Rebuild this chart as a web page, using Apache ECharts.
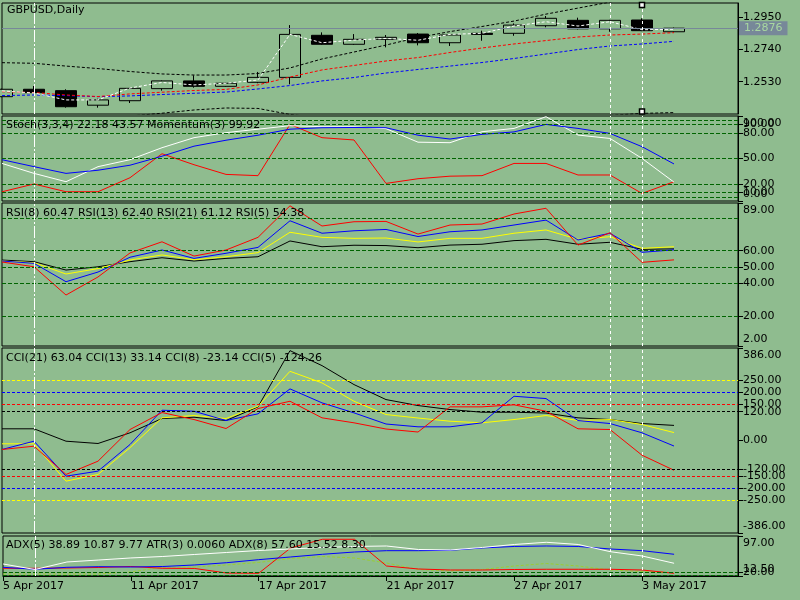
<!DOCTYPE html>
<html>
<head>
<meta charset="utf-8">
<script src="https://cdn.jsdelivr.net/npm/echarts@6/dist/echarts.min.js"></script>
<style>
html,body{margin:0;padding:0;background:#8fbc8f;}
#chart{width:800px;height:600px;}
</style>
</head>
<body>
<div id="chart"></div>
<script>
var FONT = 'DejaVu Sans';
var BG = '#8fbc8f';
var LEVEL = '#006400';

var dates = ['5 Apr 2017','6 Apr 2017','7 Apr 2017','10 Apr 2017','11 Apr 2017','12 Apr 2017',
  '13 Apr 2017','14 Apr 2017','17 Apr 2017','18 Apr 2017','19 Apr 2017','20 Apr 2017',
  '21 Apr 2017','24 Apr 2017','25 Apr 2017','26 Apr 2017','27 Apr 2017','28 Apr 2017',
  '1 May 2017','2 May 2017','3 May 2017','4 May 2017','5 May 2017','8 May 2017'];

// open, close, low, high
var ohlc = [
  [1.2433,1.2481,1.2430,1.2485],[1.2481,1.2459,1.2455,1.2502],[1.2472,1.2368,1.2362,1.2481],
  [1.2378,1.2412,1.2362,1.2420],[1.2407,1.2487,1.2392,1.2490],[1.2485,1.2535,1.2472,1.2538],
  [1.2535,1.2500,1.2491,1.2571],[1.2500,1.2520,1.2497,1.2523],[1.2526,1.2558,1.2520,1.2593],
  [1.2558,1.2836,1.2513,1.2896],[1.2830,1.2772,1.2768,1.2849],[1.2772,1.2804,1.2768,1.2838],
  [1.2804,1.2817,1.2752,1.2832],[1.2838,1.2782,1.2765,1.2845],[1.2782,1.2832,1.2761,1.2835],
  [1.2843,1.2836,1.2795,1.2860],[1.2843,1.2896,1.2827,1.2907],[1.2892,1.2940,1.2882,1.2955],
  [1.2927,1.2872,1.2868,1.2944],[1.2872,1.2927,1.2853,1.2930],[1.2929,1.2860,1.2857,1.2940],
  [1.2853,1.2876,1.2850,1.2880]
];
var maFast = [1.2470,1.2457,1.2412,1.2412,1.2489,1.2525,1.2509,1.2520,1.2541,1.2836,1.2782,
  1.2799,1.2810,1.2798,1.2836,1.2843,1.2890,1.2918,1.2890,1.2918,1.2866,1.2869];
var maRed = [1.2465,1.2460,1.2444,1.2434,1.2451,1.2462,1.2473,1.2480,1.2509,1.2560,1.2606,
  1.2635,1.2664,1.2686,1.2719,1.2748,1.2774,1.2796,1.2819,1.2832,1.2838,1.2847];
var maBlue = [1.2440,1.2444,1.2440,1.2433,1.2438,1.2447,1.2455,1.2463,1.2483,1.2505,1.2535,
  1.2557,1.2586,1.2609,1.2631,1.2654,1.2680,1.2709,1.2738,1.2761,1.2774,1.2791];
var bandUp = [1.2653,1.2649,1.2631,1.2615,1.2596,1.2580,1.2573,1.2573,1.2583,1.2619,1.2677,
  1.2722,1.2767,1.2816,1.2854,1.2887,1.2922,1.2967,1.3006,1.3045,1.3075,1.3100];
var bandLow = [1.2276,1.2273,1.2283,1.2295,1.2308,1.2326,1.2347,1.2360,1.2357,1.2318,1.2295,
  1.2276,1.2263,1.2257,1.2257,1.2263,1.2270,1.2283,1.2295,1.2312,1.2325,1.2330];
var lastPrice = 1.2876;
var priceTicks = [1.2530, 1.2740, 1.2950];

var stochMain = [48.6,40.4,32.5,36.2,42.1,52.7,64.5,71.5,77.4,84.5,86.2,86.5,86.2,77.4,72.9,
  78.4,81.3,90.1,85.4,79.5,63.9,43.6];
var stochSignal = [44.2,32.5,22.7,40.4,48.6,62.7,74.5,80.4,84.5,88.6,87.4,87.4,85.1,69.2,68.6,
  81.5,85.4,99.2,77.6,73.6,50.1,22.2];
var momentum = [10.9,20.0,10.9,10.9,27.4,55.6,42.7,31.3,29.8,90.1,74.5,71.8,20.7,26.2,29.2,
  29.8,44.2,44.2,30.6,30.6,8.9,22.7];
var stochLevels = [95, 90, 80, 50, 20, 10, 5];
var stochTicks = [100, 95, 90, 80, 50, 20, 10, 5, 0];

var rsi5 = [53.1,50.2,33.0,44.0,58.6,65.4,56.7,60.4,68.1,87.3,75.0,77.6,77.8,70.1,75.6,76.2,
  82.3,85.8,63.4,70.9,52.9,54.4];
var rsi8 = [53.7,52.3,41.1,47.0,56.0,60.4,55.3,58.4,62.0,78.2,70.6,72.1,72.9,68.6,71.5,72.6,
  75.6,78.6,66.5,70.6,59.0,60.5];
var rsi13 = [53.7,52.7,45.8,49.1,54.3,57.4,54.5,56.3,58.8,71.2,68.1,67.5,67.7,65.3,67.5,67.5,
  70.6,72.6,66.9,68.5,61.4,62.4];
var rsi21 = [54.3,53.3,48.2,50.2,53.3,55.7,53.7,55.3,56.3,65.9,62.4,63.3,63.1,61.8,63.4,63.9,
  66.1,66.9,63.9,65.1,60.8,61.1];
var rsiLevels = [80, 60, 50, 40, 20];
var rsiTicks = [89, 80, 60, 50, 40, 20, 2];

var cci21 = [48.8,48.8,-2.9,-12.5,32.1,91.7,97.1,83.3,140.4,375.0,312.5,233.3,170.8,145.8,
  129.2,117.9,117.9,114.6,94.6,87.5,70.8,63.0];
var cci13 = [-13.8,-13.8,-169.6,-141.7,-30.0,94.6,104.2,91.7,142.9,288.8,240.4,163.8,108.3,
  93.8,80.4,73.8,87.5,104.2,83.3,87.5,66.7,33.1];
var cci8 = [-37.5,-2.9,-148.8,-127.9,-16.7,126.3,122.1,83.3,111.3,215.4,157.1,115.4,68.8,57.1,
  57.1,73.8,184.6,175.0,83.3,70.8,32.1,-23.1];
var cci5 = [-37.5,-23.8,-141.7,-86.3,45.8,116.7,87.5,50.0,133.3,163.8,94.6,73.8,47.9,35.4,
  140.4,140.4,148.8,122.1,48.8,45.8,-61.3,-124.3];
var cciLevels = [[120,'#000000'],[150,'#ff0000'],[200,'#0000ff'],[250,'#ffff00']];
var cciTicks = [386, 250, 200, 150, 120, 0, -120, -150, -200, -250, -386];

var adxWhite = [37.9,26.2,42.1,46.3,50.6,53.7,58.0,62.2,66.4,69.6,72.8,74.9,75.9,68.5,67.5,
  72.8,79.1,83.7,79.1,63.9,54.8,39.4];
var adxBlue = [30.9,26.7,30.9,32.2,31.5,32.6,35.8,40.6,47.0,52.7,58.4,63.2,66.0,66.0,66.8,
  71.7,74.9,75.9,74.9,69.6,66.0,58.4];
var adxRed = [28.8,28.8,29.4,30.5,32.6,28.8,28.4,18.8,18.2,71.7,90.1,90.1,33.6,27.3,25.2,
  25.2,26.2,26.7,26.7,26.7,25.2,18.2];
var atrLine = [16.7,16.7,16.7,16.7,21.0,31.5,31.5,35.8,41.1,49.6,53.7,50.6,40.0,26.2,23.1,
  26.2,33.6,38.9,33.6,25.2,22.0,19.5];
var adxLevels = [20, 15];
var adxTicks = [97, 20, 15, 12.5];

var titles = [
  ['GBPUSD,Daily', 7, 5],
  ['Stoch(3,3,4) 22.18 43.57 Momentum(3) 99.92', 6, 120],
  ['RSI(8) 60.47 RSI(13) 62.40 RSI(21) 61.12 RSI(5) 54.38', 6, 208],
  ['CCI(21) 63.04 CCI(13) 33.14 CCI(8) -23.14 CCI(5) -124.26', 6, 353],
  ['ADX(5) 38.89 10.87 9.77 ATR(3) 0.0060 ADX(8) 57.60 15.52 8.30', 6, 540]
];

var panels = [
  {top: 3, height: 111, min: 1.2321, max: 1.3039, ticks: priceTicks, digits: 4},
  {top: 116, height: 85, min: 0, max: 100, ticks: stochTicks, digits: 2},
  {top: 203, height: 143, min: 2, max: 89, ticks: rsiTicks, digits: 2},
  {top: 348, height: 185, min: -386, max: 386, ticks: cciTicks, digits: 2},
  {top: 536, height: 40, min: 12.5, max: 97, ticks: adxTicks, digits: 2}
];

function vLines() {
  return [
    {xAxis: dates[1], lineStyle: {color: '#ffffff', type: [12, 2, 2, 2], width: 1}},
    {xAxis: dates[19], lineStyle: {color: '#ffffff', type: [3, 3], width: 1}},
    {xAxis: dates[20], lineStyle: {color: '#ffffff', type: [3, 3], width: 1}}
  ];
}
function hLevels(vals, color) {
  return vals.map(function (v) {
    return {yAxis: v, lineStyle: {color: color, type: [4, 2], width: 1}};
  });
}
function mark(data) {
  return {silent: true, symbol: ['none', 'none'], precision: 6, label: {show: false},
    animation: false, data: data};
}
function line(grid, data, color, dashed, extra) {
  var s = {
    type: 'line', xAxisIndex: grid, yAxisIndex: grid, data: data, symbol: 'none',
    lineStyle: {color: color, width: 1, type: dashed ? [3, 2] : 'solid'}, z: 3
  };
  if (extra) s.markLine = extra;
  return s;
}

var grids = [], xAxes = [], yAxes = [];
panels.forEach(function (p, i) {
  grids.push({left: 2, width: 736, top: p.top, height: p.height, show: true,
    borderColor: '#000', borderWidth: 1, backgroundColor: 'transparent'});
  var last = i === panels.length - 1;
  xAxes.push({
    type: 'category', gridIndex: i, data: dates, boundaryGap: false,
    axisLine: {show: last, lineStyle: {color: '#000'}},
    axisTick: {show: last, interval: 3, length: 5, lineStyle: {color: '#000'}},
    axisLabel: {show: last, interval: 3, align: 'left', margin: 5, color: '#000',
      fontSize: 11, fontFamily: FONT},
    splitLine: {show: false}
  });
  var edge = i > 0;
  yAxes.push({
    type: 'value', gridIndex: i, position: 'right', min: p.min, max: p.max,
    splitLine: {show: false},
    axisLine: {show: true, lineStyle: {color: '#000'}},
    axisTick: {show: true, customValues: p.ticks, length: 5, lineStyle: {color: '#000'}},
    axisLabel: {
      customValues: p.ticks, margin: 5, color: '#000', fontSize: 11, fontFamily: FONT,
      showMinLabel: true, showMaxLabel: true, hideOverlap: false,
      formatter: function (v) {
        var s = v.toFixed(p.digits);
        if (edge && v === p.max) return '{t|' + s + '}';
        if (edge && v === p.min) return '{b|' + s + '}';
        return s;
      },
      rich: {
        t: {padding: [14, 0, 0, 0], color: '#000', fontSize: 11, fontFamily: FONT},
        b: {padding: [0, 0, 14, 0], color: '#000', fontSize: 11, fontFamily: FONT}
      }
    }
  });
});

var series = [
  {
    type: 'candlestick', xAxisIndex: 0, yAxisIndex: 0, data: ohlc, barWidth: 22,
    itemStyle: {color: BG, color0: '#000', borderColor: '#000', borderColor0: '#000', borderWidth: 1},
    markPoint: {
      silent: true, symbol: 'rect', symbolSize: 5, label: {show: false},
      itemStyle: {color: '#ffffff', borderColor: '#000', borderWidth: 1.5},
      data: [{xAxis: dates[20], yAxis: 1.3026}, {xAxis: dates[20], yAxis: 1.2337}]
    }
  },
  line(0, bandUp, '#000', true),
  line(0, bandLow, '#000', true),
  line(0, maBlue, '#0000ff', true),
  line(0, maRed, '#ff0000', true),
  line(0, maFast, '#ffffff', true, mark([
    {yAxis: lastPrice, lineStyle: {color: '#778899', type: 'solid', width: 1},
      label: {show: true, position: 'end', distance: 1, formatter: lastPrice.toFixed(4),
        backgroundColor: '#778899', color: '#a8d8a0', padding: [2, 5, 1, 5],
        fontSize: 11, fontFamily: FONT}}
  ].concat(vLines()))),

  line(1, momentum, '#ff0000', false, mark(hLevels(stochLevels, LEVEL).concat(vLines()))),
  line(1, stochSignal, '#ffffff', false),
  line(1, stochMain, '#0000ff', false),

  line(2, rsi21, '#000000', false, mark(hLevels(rsiLevels, LEVEL).concat(vLines()))),
  line(2, rsi13, '#ffff00', false),
  line(2, rsi8, '#0000ff', false),
  line(2, rsi5, '#ff0000', false),

  line(3, cci21, '#000000', false, mark(cciLevels.reduce(function (acc, l) {
    return acc.concat(hLevels([l[0], -l[0]], l[1]).map(function (d) {
      d.lineStyle.type = [3, 2];
      return d;
    }));
  }, []).concat(vLines()))),
  line(3, cci13, '#ffff00', false),
  line(3, cci8, '#0000ff', false),
  line(3, cci5, '#ff0000', false),

  line(4, atrLine, '#9acd32', true, mark(hLevels(adxLevels, LEVEL).concat(vLines()))),
  line(4, adxRed, '#ff0000', false),
  line(4, adxBlue, '#0000ff', false),
  line(4, adxWhite, '#ffffff', false)
];

var chart = echarts.init(document.getElementById('chart'));
chart.setOption({
  backgroundColor: BG,
  animation: false,
  title: titles.map(function (t) {
    return {text: t[0], left: t[1], top: t[2], padding: 0,
      textStyle: {color: '#000', fontSize: 11, fontWeight: 'normal', fontFamily: FONT}};
  }),
  grid: grids,
  xAxis: xAxes,
  yAxis: yAxes,
  series: series
});
</script>
</body>
</html>
